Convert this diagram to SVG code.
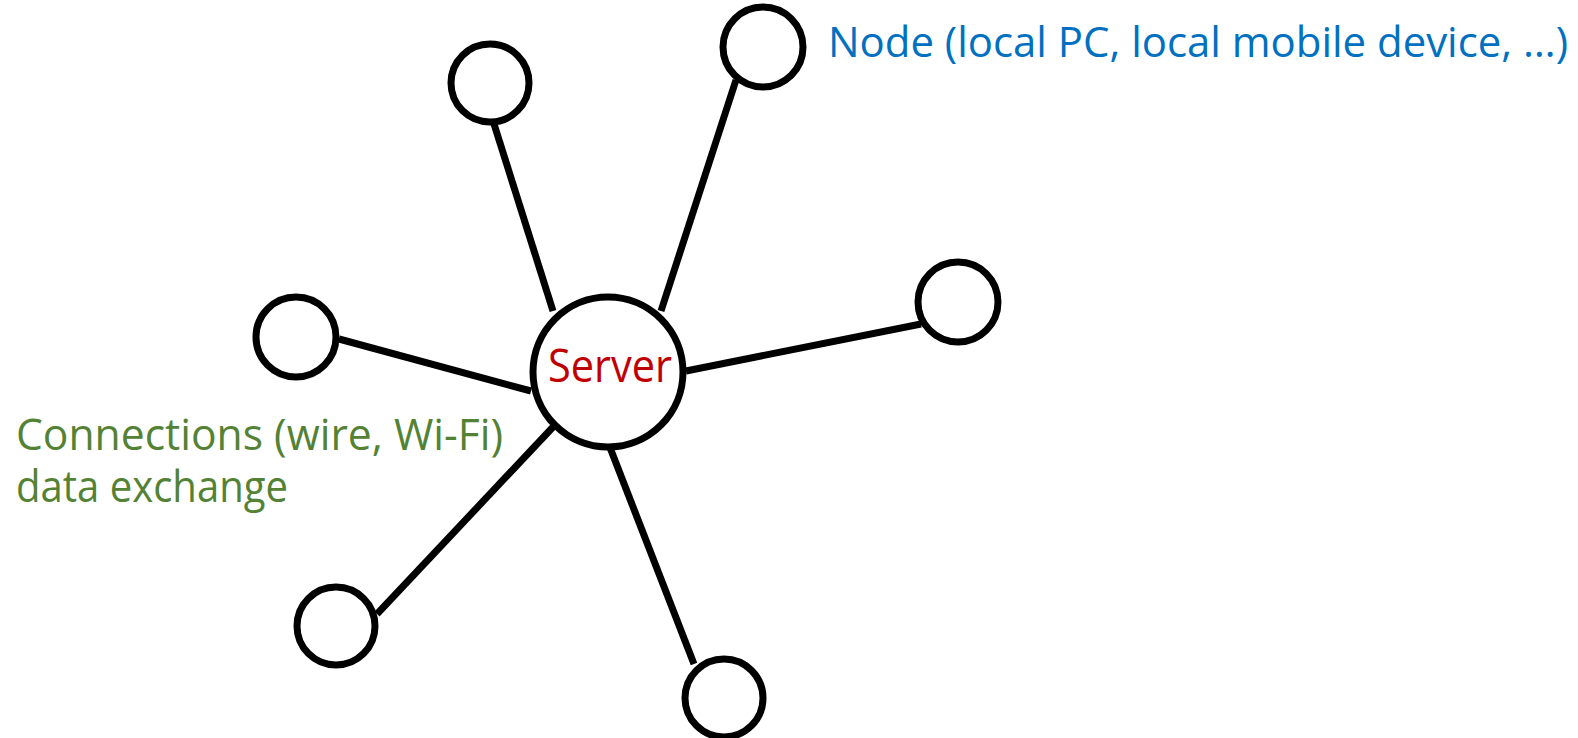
<svg xmlns="http://www.w3.org/2000/svg" width="1578" height="738" viewBox="0 0 1578 738">
<style>
.node{fill:#fff;stroke:#000;stroke-width:7}
.conn{stroke:#000;stroke-width:7;stroke-linecap:butt}
.lbl{font-family:"Open Sans","Liberation Sans",sans-serif}
</style>
<rect width="1578" height="738" fill="#fff"/>
<g id="connectors">
<line class="conn" x1="494" y1="124" x2="553" y2="311"/>
<line class="conn" x1="736" y1="80" x2="661" y2="311"/>
<line class="conn" x1="339" y1="339" x2="531" y2="391"/>
<line class="conn" x1="921" y1="324" x2="686" y2="371"/>
<line class="conn" x1="377" y1="614" x2="553" y2="427"/>
<line class="conn" x1="694" y1="664" x2="609" y2="445"/>
</g>
<g id="server">
<circle class="node" cx="608" cy="372" r="75"/>
<text class="lbl" x="548" y="382" font-size="46" fill="#C00000" textLength="124" lengthAdjust="spacingAndGlyphs">Server</text>
</g>
<g id="node-top-middle"><circle class="node" cx="490" cy="83" r="39"/></g>
<g id="node-top-right"><circle class="node" cx="763" cy="47" r="40"/></g>
<g id="node-left"><circle class="node" cx="296" cy="337" r="40"/></g>
<g id="node-right"><circle class="node" cx="958" cy="302" r="40"/></g>
<g id="node-bottom-left"><circle class="node" cx="336" cy="626" r="39"/></g>
<g id="node-bottom"><circle class="node" cx="724" cy="698" r="39"/></g>
<g id="label-node">
<text class="lbl" x="828" y="57" font-size="42" fill="#0070C0" textLength="740" lengthAdjust="spacingAndGlyphs">Node (local PC, local mobile device, …)</text>
</g>
<g id="label-connections">
<text class="lbl" x="16" y="450" font-size="43" fill="#548235" textLength="487" lengthAdjust="spacingAndGlyphs">Connections (wire, Wi-Fi)</text>
<text class="lbl" x="16" y="502" font-size="43" fill="#548235" textLength="272" lengthAdjust="spacingAndGlyphs">data exchange</text>
</g>
</svg>
